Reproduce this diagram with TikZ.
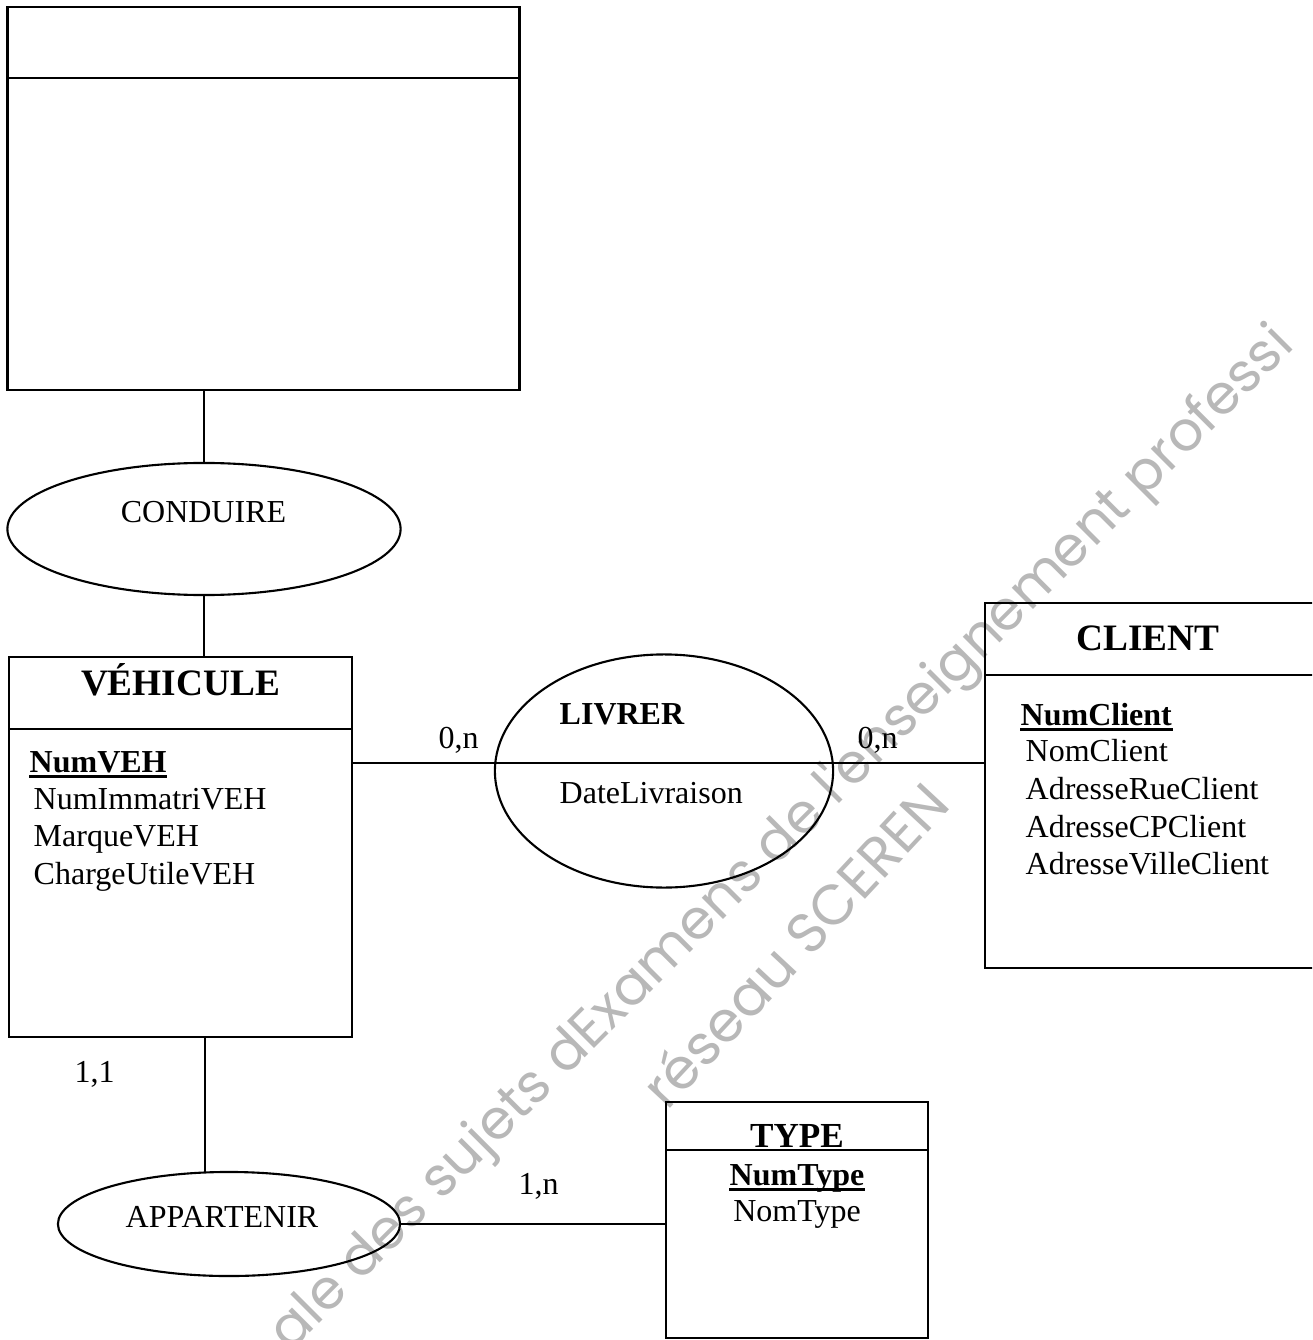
\documentclass[tikz,border=0pt]{standalone}
\usepackage{fontspec}
\setmainfont{Liberation Serif}
\newfontfamily\wmfont{Poppins}
\usetikzlibrary{shapes.geometric}
\begin{document}
\begin{tikzpicture}[x=0.01cm,y=-0.01cm,
  boxline/.style={line width=0.78pt},
  entity/.style={draw,boxline,rectangle,inner sep=0pt,outer sep=0pt},
  assoc/.style={draw,line width=0.6pt,ellipse,inner sep=0pt,outer sep=0pt},
  link/.style={line width=0.55pt},
  txt/.style={inner sep=0pt,font=\fontsize{9.1pt}{11pt}\selectfont},
  ttl/.style={inner sep=0pt,font=\fontsize{10.6pt}{12pt}\selectfont\bfseries},
  ul/.style={line width=0.85pt},
  wm/.style={inner sep=0pt,text=black!28,font=\wmfont\fontsize{15.6pt}{18pt}\selectfont}]
\useasboundingbox (0,0) rectangle (1312,1340);

% watermark
\node[wm,anchor=base west,rotate=45] (wm1) at (565,1078) {dExamens de l'enseignement professi};
\node[wm,anchor=base east,rotate=45] (wm0) at (555,1088) {ale des sujets};
\node[wm,rotate=47,font=\wmfont\fontsize{16pt}{18pt}\selectfont] (wm2) at (794,944) {réseau SCEREN};

% entities
\node[entity,minimum width=5.11cm,minimum height=3.83cm] (E0) at (263.5,198.5) {};
\draw[boxline] ([yshift=-0.71cm]E0.north west) -- ([yshift=-0.71cm]E0.north east);

\node[entity,minimum width=3.43cm,minimum height=3.80cm] (VEH) at (180.5,847) {};
\draw[boxline] ([yshift=-0.72cm]VEH.north west) -- ([yshift=-0.72cm]VEH.north east);

\begin{scope}
\clip (0,0) rectangle (1312,1340);
\node[entity,minimum width=3.45cm,minimum height=3.65cm] (CLIENT) at (1157.5,785.5) {};
\draw[boxline] ([yshift=-0.72cm]CLIENT.north west) -- ([yshift=-0.72cm]CLIENT.north east);
\end{scope}

\node[entity,minimum width=2.62cm,minimum height=2.36cm] (TYPE) at (797,1220) {};
\draw[boxline] ([yshift=-0.48cm]TYPE.north west) -- ([yshift=-0.48cm]TYPE.north east);

% associations
\node[assoc,minimum width=3.93cm,minimum height=1.32cm] (COND) at (204,529) {};
\node[assoc,minimum width=3.38cm,minimum height=2.33cm] (LIV) at (664,771) {};
\node[assoc,minimum width=3.42cm,minimum height=1.04cm] (APP) at (229,1224) {};

% connectors
\draw[link] (COND.north |- E0.south) -- (COND.north);
\draw[link] (COND.south) -- (COND.south |- VEH.north);
\draw[link] ([yshift=0.84cm]VEH.east) coordinate (la) -- (la -| CLIENT.west);
\draw[link] ([xshift=0.245cm]VEH.south) coordinate (lb) -- (lb |- APP.north);
\draw[link] (APP.east) -- (APP.east -| TYPE.west);

% association texts
\node[txt,anchor=base] (tcond) at (203.5,522) {CONDUIRE};
\node[txt,anchor=base west,font=\fontsize{9.1pt}{11pt}\selectfont\bfseries] (tliv) at (559,724) {LIVRER};
\node[txt,anchor=base west] (tdate) at (559,803) {DateLivraison};
\node[txt,anchor=base] (tapp) at (222,1227) {APPARTENIR};

% cardinalities
\node[txt,anchor=base west] (c1) at (438,748) {0,n};
\node[txt,anchor=base west] (c2) at (857,748) {0,n};
\node[txt,anchor=base west] (c3) at (74,1082) {1,1};
\node[txt,anchor=base west] (c4) at (518,1194) {1,n};

% VEHICULE
\node[ttl,anchor=base] (tveh) at (180.5,695) {VÉHICULE};
\node[txt,anchor=base west,font=\fontsize{9.1pt}{11pt}\selectfont\bfseries] (v1) at (29,772) {NumVEH};
\draw[ul] ([yshift=-1.3pt]v1.base west) -- ([yshift=-1.3pt]v1.base east);
\node[txt,anchor=base west] (v2) at (33,809) {NumImmatriVEH};
\node[txt,anchor=base west] (v3) at (33,846.5) {MarqueVEH};
\node[txt,anchor=base west] (v4) at (33,884) {ChargeUtileVEH};

% CLIENT
\node[ttl,anchor=base] (tcli) at (1148,650) {CLIENT};
\node[txt,anchor=base west,font=\fontsize{9.1pt}{11pt}\selectfont\bfseries] (k1) at (1020,725) {NumClient};
\draw[ul] ([yshift=-1.3pt]k1.base west) -- ([yshift=-1.3pt]k1.base east);
\node[txt,anchor=base west] (k2) at (1025,761) {NomClient};
\node[txt,anchor=base west] (k3) at (1025,799) {AdresseRueClient};
\node[txt,anchor=base west] (k4) at (1025,837) {AdresseCPClient};
\node[txt,anchor=base west] (k5) at (1025,874) {AdresseVilleClient};

% TYPE
\node[ttl,anchor=base,font=\fontsize{10pt}{12pt}\selectfont\bfseries] (ttyp) at (797,1147) {TYPE};
\node[txt,anchor=base,font=\fontsize{9.1pt}{11pt}\selectfont\bfseries] (y1) at (797,1185) {NumType};
\draw[ul] ([yshift=-1.3pt]y1.base west) -- ([yshift=-1.3pt]y1.base east);
\node[txt,anchor=base] (y2) at (797,1221) {NomType};
\end{tikzpicture}
\end{document}
